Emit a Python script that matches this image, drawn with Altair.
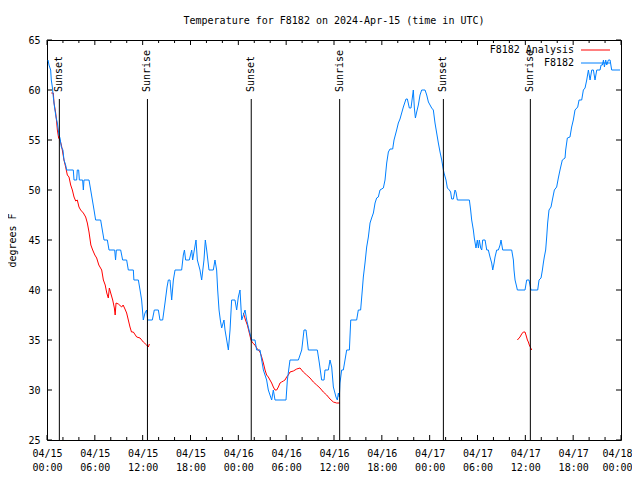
import altair as alt
import pandas as pd

# ---- data (hours since 2024-04-15 00:00 UTC, temperature in degrees F) ----
blue_hours = [0.13, 0.25, 0.46, 0.54, 0.67, 0.79, 0.96, 1.13, 1.3, 1.5, 1.63, 1.8, 2.0, 2.13, 2.34, 2.47,
              3.3, 3.39, 3.72, 3.8, 3.97, 4.06, 4.47, 4.56, 4.64, 5.27, 5.48, 5.69, 5.9, 6.1, 6.73, 6.94,
              7.15, 7.57, 7.78, 8.49, 8.6, 8.7, 9.24, 9.49, 9.99, 10.2, 10.83, 10.9, 11.46, 11.67, 11.87,
              12.08, 12.29, 12.5, 12.63, 13.21, 13.46, 13.97, 14.17, 14.51, 14.8, 15.06, 15.22, 15.43,
              15.64, 15.85, 16.06, 16.89, 17.1, 17.24, 17.39, 17.85, 18.15, 18.27, 18.48, 18.69, 18.86,
              19.19, 19.4, 19.69, 19.86, 20.03, 20.32, 20.86, 21.07, 21.28, 21.41, 21.58, 21.74, 21.91,
              22.2, 22.33, 22.54, 22.75, 22.96, 23.16, 23.58, 23.79, 24.0, 24.21, 24.42, 24.84, 25.05,
              25.34, 25.67, 26.09, 26.3, 26.72, 27.14, 27.55, 27.76, 28.18, 28.39, 28.6, 29.98, 30.15,
              30.48, 31.53, 31.95, 32.24, 32.49, 32.78, 33.91, 34.16, 34.45, 34.75, 34.87, 35.29, 35.5,
              35.71, 35.92, 36.25, 36.42, 36.55, 36.67, 36.75, 36.96, 37.17, 37.38, 37.59, 37.93, 38.1,
              38.84, 39.05, 39.34, 39.55, 39.68, 39.89, 40.1, 40.31, 40.52, 40.72, 40.94, 41.15, 41.35,
              41.56, 41.77, 42.19, 42.4, 42.61, 42.82, 43.03, 43.36, 43.53, 43.86, 44.07, 44.28, 44.49,
              44.7, 45.03, 45.2, 45.45, 45.66, 45.87, 45.95, 46.08, 46.21, 46.37, 46.58, 46.79, 47.0,
              47.42, 47.63, 47.84, 48.25, 48.46, 48.67, 48.88, 49.09, 49.3, 49.51, 49.72, 49.8, 50.05,
              50.22, 50.47, 50.63, 50.76, 50.97, 51.18, 51.3, 51.47, 52.98, 53.14, 53.27, 53.48, 53.6,
              53.81, 53.98, 54.11, 54.23, 54.4, 54.53, 54.65, 54.95, 55.16, 55.36, 55.57, 55.78, 55.91,
              56.08, 56.2, 56.41, 56.62, 56.83, 56.95, 57.16, 58.29, 58.5, 58.58, 58.71, 58.92, 59.0,
              59.96, 60.17, 60.46, 60.71, 61.55, 61.72, 61.97, 62.14, 62.26, 62.38, 62.55, 62.68, 62.8,
              62.97, 63.22, 63.39, 63.64, 63.93, 64.14, 64.35, 64.64, 64.98, 65.06, 65.27, 65.6, 65.81,
              66.02, 66.23, 66.57, 66.74, 67.07, 67.28, 67.49, 67.7, 67.91, 68.12, 68.33, 68.54, 68.74,
              68.96, 69.37, 69.5, 69.67, 69.8, 69.92, 70.08, 70.21, 70.42, 70.63, 70.83, 71.88]
blue_temps = [63, 62.5, 62, 61, 60.3, 59.3, 58.2, 57.3, 56.7, 55.5, 55.2, 54.3, 54, 53, 52.5, 52,
              52, 51, 51, 52, 52, 51, 51, 50, 51, 51, 50, 49, 48, 47, 47, 46,
              45, 45, 44, 44, 43, 44, 44, 43, 43, 42, 42, 41, 41, 40, 39,
              37, 37.7, 38, 37, 37, 38, 38, 37, 37, 38.7, 40.3, 41, 41,
              39, 41, 42, 42, 43.5, 44, 43, 43, 44, 43, 44, 45, 43,
              42, 41, 43, 45, 44, 42, 42, 43, 42, 40, 38, 37, 36.2,
              37, 36, 35, 34, 36, 39, 39, 38, 39.3, 40, 37, 38, 37,
              36, 35, 35, 34, 34, 32, 31, 30, 29, 30, 29, 29, 31,
              33, 33, 34, 36, 36, 34, 34, 32.7, 31, 31, 32, 32, 33,
              32.3, 30.3, 29.3, 29, 29.7, 29.3, 30.7, 32, 32, 33, 34, 34, 37,
              37, 38, 38, 40, 41.3, 42.7, 44.3, 45.3, 46.7, 47.2, 47.7, 48.7, 49.2,
              49.3, 50, 50.2, 51, 52.7, 53.8, 54.1, 54.1, 55, 56, 56.7, 57.1, 57.7,
              58.3, 59.1, 59.1, 58.2, 58.2, 59.5, 60, 58.2, 57.2, 57.8, 58.5, 59.5, 60,
              60, 59.5, 58.8, 58.2, 58, 56.7, 55.7, 54.7, 53.8, 53, 52, 51.7, 51,
              50.2, 50, 49.8, 49.1, 49.1, 50, 49.8, 49, 49, 48, 47, 46, 45.2,
              44.2, 45, 44.2, 45, 44.2, 44, 45, 45, 44, 44, 43.3, 42.7, 42,
              42.7, 43.3, 44, 44, 44.5, 45, 44, 44, 43, 42, 41, 40.3, 40,
              40, 41, 41, 40, 40, 41, 41.2, 42, 42.7, 43.3, 44, 45.3, 46.7,
              48, 48.3, 49, 50, 50.3, 51.2, 52, 53, 53.2, 54, 55.2, 55.3, 56.3,
              57, 58, 58.3, 59, 59, 60, 60.2, 61, 62, 61, 62, 62, 61,
              62, 62, 62.5, 62.5, 63, 62.3, 63, 62.5, 63, 63, 62, 62]

red1_hours = [0.54, 0.79, 0.88, 1.09, 1.21, 1.3, 1.46, 1.63, 1.8, 1.92, 2.13, 2.34, 2.55, 2.76, 2.97,
              3.18, 3.39, 3.6, 3.8, 4.01, 4.22, 4.56, 4.85, 5.06, 5.27, 5.5, 5.73, 6.0, 6.23, 6.5,
              6.86, 7.07, 7.3, 7.5, 7.69, 7.82, 7.99, 8.24, 8.45, 8.55, 8.66, 8.95, 9.37, 9.55, 9.78,
              9.99, 10.2, 10.41, 10.6, 10.83, 11.25, 11.67, 12.08, 12.5, 12.71, 12.84]
red1_temps = [59.7, 59.7, 58.7, 57.7, 56.8, 56, 55.2, 55, 54.5, 54, 53, 52.3, 51.5, 51.3, 50.5,
              50, 49.3, 48.9, 49, 48.3, 48, 47.7, 47.3, 46.7, 45.8, 44.5, 44, 43.5, 43.2, 42.5,
              42, 41, 40.5, 39.7, 39.2, 40.2, 39.7, 39, 38.2, 37.5, 38.7, 38.6, 38.3, 38.5, 38.1,
              37.7, 37, 36.3, 35.8, 35.8, 35.3, 35.2, 34.8, 34.5, 34.3, 34.6]
red2_hours = [24.63, 24.9, 25.13, 25.38, 25.59, 25.8, 26.09, 26.3, 26.51, 26.72, 26.93, 27.14, 27.35,
              27.55, 27.76, 27.97, 28.18, 28.39, 28.6, 28.81, 29.02, 29.23, 29.43, 29.65, 29.85, 30.06,
              30.27, 30.48, 30.9, 31.32, 31.74, 31.94, 32.15, 32.57, 32.99, 33.41, 33.83, 34.24, 34.66,
              35.08, 35.5, 35.92, 36.33, 36.75]
red2_temps = [37.7, 37, 36.5, 35.7, 35, 34.7, 34.5, 34.2, 34, 33.8, 33.3, 32.7, 32,
              31.5, 31.3, 31, 30.7, 30.3, 30, 30, 30.3, 30.7, 30.8, 30.9, 31, 31.3,
              31.5, 31.8, 31.9, 32.1, 32.2, 32, 31.8, 31.5, 31.2, 30.8, 30.5, 30.2, 29.8,
              29.5, 29.1, 28.8, 28.7, 28.7]
red3_hours = [59.0, 59.33, 59.54, 59.75, 59.96, 60.08, 60.26, 60.38, 60.5, 60.68, 60.8]
red3_temps = [35, 35.3, 35.6, 35.8, 35.8, 35.5, 35, 34.8, 34.5, 34.2, 34]

sun_hours = [1.55, 12.6, 25.62, 36.71, 49.72, 60.63]
sun_labels = ["Sunset", "Sunrise", "Sunset", "Sunrise", "Sunset", "Sunrise"]

x_major = list(range(0, 73, 6))
x_minor = [h for h in range(0, 73, 2) if h % 6 != 0]
y_ticks = [25, 30, 35, 40, 45, 50, 55, 60, 65]

legend_names = ["F8182 Analysis", "F8182"]
legend_colors = ["#ff0000", "#0080ff"]

TITLE = "Temperature for F8182 on 2024-Apr-15 (time in UTC)"
FONT = "DejaVu Sans Mono"
W, H = 574, 400

# ---- frames ----
blue_df = pd.DataFrame({"hour": blue_hours, "temp": blue_temps})
red_df = pd.concat([
    pd.DataFrame({"hour": red1_hours, "temp": red1_temps, "seg": 1}),
    pd.DataFrame({"hour": red2_hours, "temp": red2_temps, "seg": 2}),
    pd.DataFrame({"hour": red3_hours, "temp": red3_temps, "seg": 3}),
])
sun_df = pd.DataFrame({"hour": sun_hours, "label": sun_labels})
xmaj_df = pd.DataFrame({"hour": x_major})
xmin_df = pd.DataFrame({"hour": x_minor})
ytk_df = pd.DataFrame({"temp": y_ticks})

x_scale = alt.Scale(domain=[0, 72], nice=False, zero=False)
y_scale = alt.Scale(domain=[25, 65], nice=False, zero=False)

label_expr = ("['04/' + (15 + floor(datum.value / 24)), "
              "(datum.value % 24 < 10 ? '0' : '') + (datum.value % 24) + ':00']")
x_axis = alt.Axis(values=x_major, ticks=False, domain=False, grid=False, title=None,
                  labelExpr=label_expr, labelFont=FONT, labelFontSize=10, labelColor="black",
                  labelPadding=8, labelLineHeight=14, labelFlush=False, labelOverlap=False,
                  labelBaseline="top",
                  labelOffset={"condition": {"test": "datum.value >= 72", "value": -4}, "value": 0})
y_axis = alt.Axis(values=y_ticks, ticks=False, domain=False, grid=False, title="degrees F",
                  labelFont=FONT, labelFontSize=10, labelColor="black", labelPadding=7,
                  titleFont=FONT, titleFontSize=10, titleFontWeight="normal", titleColor="black",
                  titlePadding=10, labelOverlap=False)

X = alt.X("hour:Q", scale=x_scale, axis=x_axis)
Y = alt.Y("temp:Q", scale=y_scale, axis=y_axis)

red_line = alt.Chart(red_df).mark_line(color="#ff0000", strokeWidth=1).encode(
    x=X, y=Y, detail="seg:N")
blue_line = alt.Chart(blue_df).mark_line(color="#0080ff", strokeWidth=1).encode(x=X, y=Y)

sun_rules = alt.Chart(sun_df).mark_rule(color="black", strokeWidth=1).encode(
    x=X, y=alt.value(59), y2=alt.value(H))
sun_text = alt.Chart(sun_df).mark_text(angle=270, align="left", baseline="middle",
                                       font=FONT, fontSize=10, color="black").encode(
    x=X, y=alt.value(52), text="label:N")

tick_col = "black"
xb_major = alt.Chart(xmaj_df).mark_rule(color=tick_col).encode(x=X, y=alt.value(H), y2=alt.value(H - 5))
xt_major = alt.Chart(xmaj_df).mark_rule(color=tick_col).encode(x=X, y=alt.value(0), y2=alt.value(5))
xb_minor = alt.Chart(xmin_df).mark_rule(color=tick_col).encode(x=X, y=alt.value(H), y2=alt.value(H - 3))
xt_minor = alt.Chart(xmin_df).mark_rule(color=tick_col).encode(x=X, y=alt.value(0), y2=alt.value(3))
yl_ticks = alt.Chart(ytk_df).mark_rule(color=tick_col).encode(y=Y, x=alt.value(0), x2=alt.value(5))
yr_ticks = alt.Chart(ytk_df).mark_rule(color=tick_col).encode(y=Y, x=alt.value(W), x2=alt.value(W - 5))

leg_df = pd.DataFrame({"name": legend_names, "color": legend_colors})
leg_layers = []
for i, (nm, col) in enumerate(zip(legend_names, legend_colors)):
    d = leg_df[leg_df["name"] == nm]
    leg_layers.append(alt.Chart(d).mark_text(align="right", baseline="middle", font=FONT,
                                             fontSize=10, color="black").encode(
        x=alt.value(527), y=alt.value(10 + 13 * i), text="name:N"))
    leg_layers.append(alt.Chart(d).mark_rule(color=col, strokeWidth=1).encode(
        x=alt.value(534), x2=alt.value(563), y=alt.value(10 + 13 * i)))

chart = alt.layer(
    red_line, blue_line, sun_rules, sun_text,
    xb_major, xt_major, xb_minor, xt_minor, yl_ticks, yr_ticks,
    *leg_layers,
).properties(
    width=W, height=H,
    title=alt.TitleParams(TITLE, font=FONT, fontSize=10, fontWeight="normal", color="black",
                          anchor="middle", offset=9),
    autosize=alt.AutoSizeParams(type="none"),
    padding={"left": 39, "top": 32, "right": 11, "bottom": 32},
    background="white",
).configure_view(stroke="black", strokeWidth=1)

chart.save("out.html", embed_options={"renderer": "svg", "actions": False})
